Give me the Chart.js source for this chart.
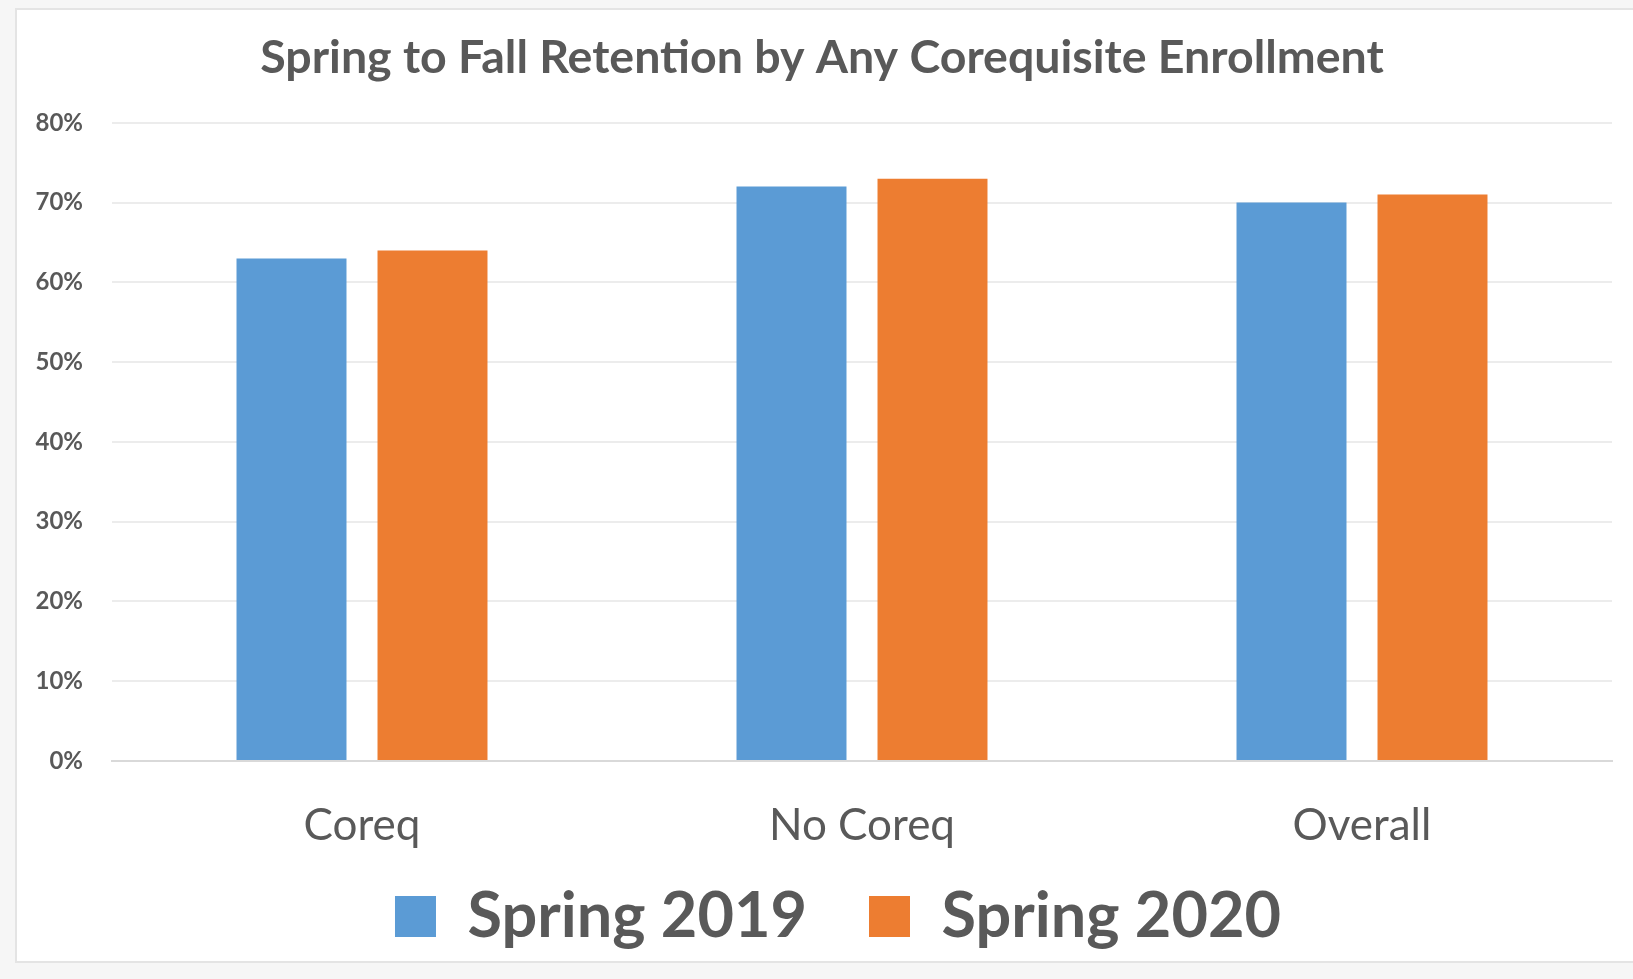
<!DOCTYPE html>
<html>
<head>
<meta charset="utf-8">
<script src="https://cdn.jsdelivr.net/npm/chart.js@4.4.0/dist/chart.umd.min.js"></script>
<style>
  html, body { margin: 0; padding: 0; background: #f6f6f6; overflow: hidden; }
  #frame { position: absolute; left: 15px; top: 8px; width: 1640px; height: 955px; border: 2px solid #e4e4e4; box-sizing: border-box; background: #ffffff; }
  #wrap { position: absolute; left: 0; top: 0; width: 1633px; height: 979px; }
</style>
</head>
<body>
<div id="frame"></div>
<div id="wrap"><canvas id="retentionChart"></canvas></div>
<script>
const categories = ['Coreq', 'No Coreq', 'Overall'];
const spring2019 = [63, 72, 70];
const spring2020 = [64, 73, 71];
const yTicks = [0, 10, 20, 30, 40, 50, 60, 70, 80];

const textGray = '#595959';

// move the legend up so it sits right under the category labels
const legendShift = {
    id: 'legendShift',
    afterLayout: function (chart) {
        const dx = 16, dy = 48;
        chart.legend.top -= dy;
        chart.legend.bottom -= dy;
        chart.legend.left += dx;
        chart.legend.right += dx;
    }
};

document.addEventListener('DOMContentLoaded', function () {
    const ctx = document.getElementById('retentionChart');
    new Chart(ctx, {
        type: 'bar',
        data: {
            labels: categories,
            datasets: [{
                label: 'Spring 2019',
                data: spring2019,
                backgroundColor: '#5B9BD5'
            }, {
                label: 'Spring 2020',
                data: spring2020,
                backgroundColor: '#ED7D31'
            }]
        },
        plugins: [legendShift],
        options: {
            responsive: true,
            maintainAspectRatio: false,
            animation: false,
            categoryPercentage: 0.564,
            barPercentage: 0.78,
            layout: {
                padding: { left: 32, right: 21, top: 20, bottom: -27 }
            },
            plugins: {
                title: {
                    display: true,
                    text: 'Spring to Fall Retention by Any Corequisite Enrollment',
                    color: textGray,
                    font: { family: 'Lato', size: 46.5, weight: 'bold', lineHeight: 1.2 },
                    padding: { top: 10, bottom: 37 }
                },
                legend: {
                    position: 'bottom',
                    labels: {
                        color: textGray,
                        font: { family: 'Lato', size: 63, weight: 'bold' },
                        boxWidth: 41,
                        boxHeight: 41,
                        padding: 62
                    }
                },
                tooltip: { enabled: false }
            },
            scales: {
                x: {
                    grid: { display: false, drawTicks: false },
                    border: { display: true, color: '#d9d9d9', width: 2 },
                    ticks: {
                        color: textGray,
                        font: { family: 'Lato', size: 44 },
                        padding: 38
                    },
                    afterFit: function (scale) { scale.height = 110; }
                },
                y: {
                    min: 0,
                    max: 80,
                    afterBuildTicks: function (scale) {
                        scale.ticks = yTicks.map(v => ({ value: v }));
                    },
                    grid: { color: '#ececec', lineWidth: 2, drawTicks: false },
                    border: { display: false },
                    ticks: {
                        color: textGray,
                        font: { family: 'Lato', size: 24, weight: 'bold' },
                        padding: 29,
                        callback: function (value) { return value + '%'; }
                    },
                    afterFit: function (scale) { scale.width = 80; }
                }
            }
        }
    });
});
</script>
</body>
</html>
